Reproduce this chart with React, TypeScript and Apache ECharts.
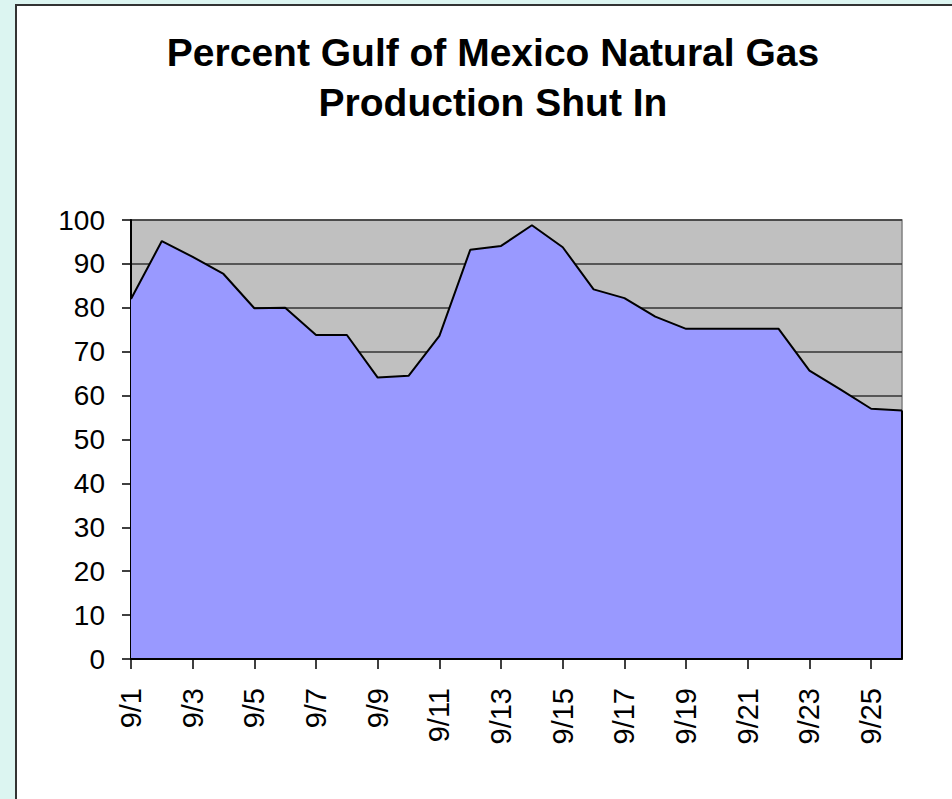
import React, { useEffect, useRef } from "react";
import * as echarts from "echarts";

const categories = [
  "9/1", "9/2", "9/3", "9/4", "9/5", "9/6", "9/7", "9/8", "9/9", "9/10",
  "9/11", "9/12", "9/13", "9/14", "9/15", "9/16", "9/17", "9/18", "9/19", "9/20",
  "9/21", "9/22", "9/23", "9/24", "9/25", "9/26",
];

const shutInPercent = [
  82.0, 95.2, 91.6, 87.7, 79.9, 80.0, 73.8, 73.8, 64.1, 64.5,
  73.6, 93.2, 94.1, 98.8, 93.8, 84.2, 82.2, 78.0, 75.2, 75.2,
  75.2, 75.2, 65.7, 61.4, 57.0, 56.6,
];

const titleText = "Percent Gulf of Mexico Natural Gas\nProduction Shut In";

const FONT = "'Liberation Sans', Arial, Helvetica, sans-serif";

export default function App() {
  const ref = useRef<HTMLDivElement>(null);

  useEffect(() => {
    if (!ref.current) return;
    const chart = echarts.init(ref.current, undefined, { renderer: "svg" });
    const last = categories.length - 1;
    chart.setOption({
      animation: false,
      title: {
        text: titleText,
        left: 493,
        top: 27,
        padding: 0,
        textAlign: "center",
        textStyle: {
          fontFamily: FONT,
          fontSize: 39,
          fontWeight: "bold",
          color: "#000",
          lineHeight: 50,
        },
      },
      grid: {
        left: 131,
        top: 220,
        right: 50,
        bottom: 140,
        show: true,
        backgroundColor: "#C0C0C0",
        borderColor: "#808080",
        borderWidth: 1.5,
      },
      xAxis: {
        type: "category",
        data: categories,
        boundaryGap: false,
        z: 5,
        axisLine: { show: true, lineStyle: { color: "#000", width: 2 } },
        axisTick: {
          show: true,
          interval: 1,
          length: 10,
          lineStyle: { color: "#000", width: 1.5 },
        },
        axisLabel: {
          interval: 1,
          rotate: 90,
          margin: 29,
          color: "#000",
          fontFamily: FONT,
          fontSize: 29,
        },
        splitLine: { show: false },
      },
      yAxis: {
        type: "value",
        min: 0,
        max: 100,
        interval: 10,
        axisLine: { show: true, lineStyle: { color: "#000", width: 2 } },
        axisTick: {
          show: true,
          length: 9,
          lineStyle: { color: "#000", width: 1.5 },
        },
        axisLabel: {
          margin: 26,
          color: "#000",
          fontFamily: FONT,
          fontSize: 28,
        },
        splitLine: { show: true, lineStyle: { color: "#333", width: 1.5 } },
      },
      series: [
        {
          type: "line",
          data: shutInPercent,
          symbol: "none",
          lineStyle: { color: "#000", width: 2 },
          areaStyle: { color: "#9999FF", opacity: 1 },
          markLine: {
            silent: true,
            symbol: ["none", "none"],
            label: { show: false },
            lineStyle: { color: "#000", width: 2, type: "solid" },
            data: [
              [
                { coord: [last, 0] },
                { coord: [last, shutInPercent[last]] },
              ],
            ],
          },
        },
      ],
    });
    return () => chart.dispose();
  }, []);

  return (
    <div
      style={{
        position: "absolute",
        left: 0,
        top: 0,
        width: 952,
        height: 799,
        background: "#DCF5F1",
        overflow: "hidden",
      }}
    >
      <div
        style={{
          position: "absolute",
          left: 15,
          top: 4,
          width: 952 - 15,
          height: 799 - 4,
          background: "#FFFFFF",
          borderLeft: "2px solid #333",
          borderTop: "2px solid #333",
          boxSizing: "border-box",
        }}
      />
      <div
        ref={ref}
        style={{ position: "absolute", left: 0, top: 0, width: 952, height: 799 }}
      />
    </div>
  );
}
